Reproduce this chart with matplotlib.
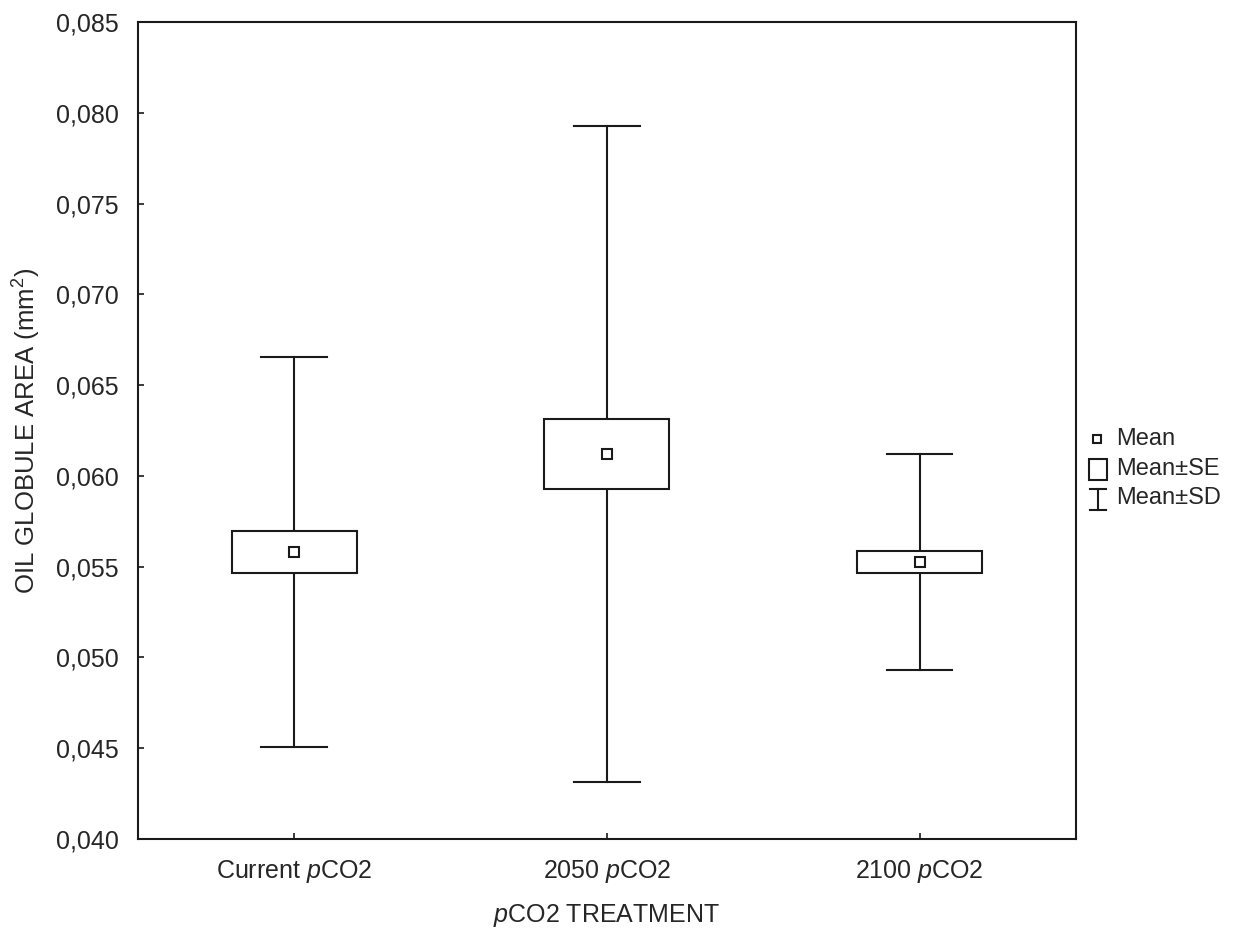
import matplotlib
matplotlib.use("Agg")
import matplotlib.pyplot as plt
from matplotlib.ticker import FuncFormatter, MultipleLocator

plt.rcParams['font.family'] = ['Liberation Sans', 'DejaVu Sans']
plt.rcParams['mathtext.fontset'] = 'custom'
plt.rcParams['mathtext.rm'] = 'Liberation Sans'
plt.rcParams['mathtext.it'] = 'Liberation Sans:italic'

# Oil globule area per pCO2 treatment (mm^2)
categories = [r"Current $\it{p}$CO2", r"2050 $\it{p}$CO2", r"2100 $\it{p}$CO2"]
means = [0.05581, 0.06121, 0.05526]
se = [0.00116, 0.00192, 0.00060]
sd = [0.01076, 0.01808, 0.00595]

fig = plt.figure(figsize=(12.44, 9.31), dpi=100)
ax = fig.add_axes([0.1109, 0.0988, 0.754, 0.8776])

ink = '#1a1a1a'
txt = '#262626'
lw = 1.5
box_half = 0.2
cap_half = 0.105
for i, (m, s, d) in enumerate(zip(means, se, sd)):
    # SD whiskers
    ax.plot([i, i], [m + s, m + d], color=ink, lw=lw, zorder=2)
    ax.plot([i, i], [m - s, m - d], color=ink, lw=lw, zorder=2)
    ax.plot([i - cap_half, i + cap_half], [m + d, m + d], color=ink, lw=lw, zorder=2)
    ax.plot([i - cap_half, i + cap_half], [m - d, m - d], color=ink, lw=lw, zorder=2)
    # SE box
    ax.add_patch(plt.Rectangle((i - box_half, m - s), 2 * box_half, 2 * s,
                               facecolor='white', edgecolor=ink, lw=lw, zorder=3))
    # mean marker
    ax.plot([i], [m], marker='s', ms=7, mfc='white', mec=ink, mew=1.5, zorder=4)

ax.set_xlim(-0.5, 2.5)
ax.set_ylim(0.040, 0.085)
ax.set_xticks(range(len(categories)))
ax.set_xticklabels(categories)
ax.yaxis.set_major_locator(MultipleLocator(0.005))
ax.yaxis.set_major_formatter(FuncFormatter(lambda v, p: f"{v:.3f}".replace('.', ',')))
ax.tick_params(direction='in', length=4, width=1.2, colors=ink, labelcolor=txt)
ax.tick_params(axis='y', labelsize=18, pad=14)
ax.tick_params(axis='x', labelsize=18, pad=14)
for sp in ax.spines.values():
    sp.set_linewidth(1.5)
    sp.set_color(ink)

ax.set_ylabel("OIL GLOBULE AREA (mm$^2$)", fontsize=18.5, color=txt, labelpad=9)
ax.set_xlabel(r"$\it{p}$CO2 TREATMENT", fontsize=18, color=txt, labelpad=12)

# Legend drawn in figure pixel space
W, H = 1244, 931
lax = fig.add_axes([0, 0, 1, 1], facecolor='none')
lax.set_xlim(0, W)
lax.set_ylim(H, 0)
lax.axis('off')
lax.plot([1097], [439], marker='s', ms=6, mfc='white', mec=ink, mew=1.5)
lax.add_patch(plt.Rectangle((1089, 459), 18, 21, facecolor='white', edgecolor=ink, lw=1.5))
lax.plot([1098, 1098], [489, 510], color=ink, lw=1.5)
lax.plot([1090, 1106], [489, 489], color=ink, lw=1.5)
lax.plot([1090, 1106], [510, 510], color=ink, lw=1.5)
for y, t in [(439, "Mean"), (469, "Mean±SE"), (498, "Mean±SD")]:
    lax.text(1116, y, t, fontsize=17, color=txt, va='center', ha='left')

fig.savefig("out.png", dpi=100, facecolor='white')
